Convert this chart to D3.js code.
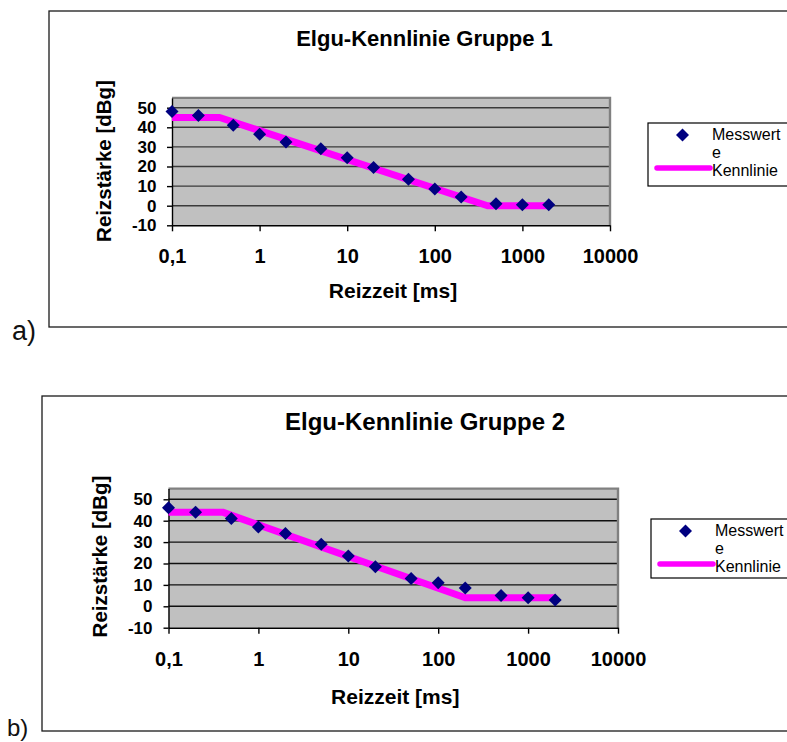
<!DOCTYPE html>
<html>
<head>
<meta charset="utf-8">
<script src="https://cdn.jsdelivr.net/npm/d3@7"></script>
<style>
  html, body { margin: 0; padding: 0; background: #fff; }
  svg { display: block; font-family: "Liberation Sans", Arial, sans-serif; }
</style>
</head>
<body>
<svg id="chart" width="787" height="742"></svg>
<script>
// Stimulus durations (ms) shared by both groups
const reizzeit = [0.1, 0.2, 0.5, 1, 2, 5, 10, 20, 50, 100, 200, 500, 1000, 2000];

// Measured thresholds, group 1 and group 2 (dBg)
const messwerte1 = [48, 46, 41, 36.5, 32.5, 29, 24.5, 19.5, 13.5, 8.5, 4.5, 1, 0.5, 0.5];
const messwerte2 = [46, 44, 41, 37, 34, 29, 23.5, 18.5, 13, 11, 8.5, 5, 4, 3];

// Characteristic curve (Kennlinie) break points
const kennlinieZeit1 = [0.1, 0.35, 400, 2000];
const kennlinieWert1 = [45, 45, 0, 0];
const kennlinieZeit2 = [0.1, 0.4, 200, 2000];
const kennlinieWert2 = [44, 44, 4, 4];

// Axes
const xTicks = [0.1, 1, 10, 100, 1000, 10000];
const xTickLabels = ["0,1", "1", "10", "100", "1000", "10000"];
const yTicks = [-10, 0, 10, 20, 30, 40, 50];
const yDomain = [-10, 55];
const xDomain = [0.1, 10000];

const titles = ["Elgu-Kennlinie Gruppe 1", "Elgu-Kennlinie Gruppe 2"];
const panelLabels = ["a)", "b)"];
const legendLabels = ["Messwert", "e", "Kennlinie"];
const xTitle = "Reizzeit [ms]";
const yTitle = "Reizstärke [dBg]";

const svg = d3.select("#chart");

function diamond(r) {
  return `M0,${-r}L${r},0L0,${r}L${-r},0Z`;
}

function drawChart(cfg) {
  const g = svg.append("g");

  // outer chart frame
  g.append("rect")
    .attr("x", cfg.frame.x).attr("y", cfg.frame.y)
    .attr("width", cfg.frame.w).attr("height", cfg.frame.h)
    .attr("fill", "#fff").attr("stroke", "#1a1a1a").attr("stroke-width", 1.3);

  // panel letter
  g.append("text")
    .attr("x", cfg.panel.x).attr("y", cfg.panel.y)
    .attr("font-size", cfg.panel.size).attr("fill", "#111")
    .text(cfg.panelLabel);

  const x = d3.scaleLog().domain(xDomain).range([cfg.plot.x0, cfg.plot.x1]);
  const y = d3.scaleLinear().domain(yDomain).range([cfg.plot.y1, cfg.plot.y0]);

  // plot area
  g.append("rect")
    .attr("x", cfg.plot.x0).attr("y", cfg.plot.y0)
    .attr("width", cfg.plot.x1 - cfg.plot.x0).attr("height", cfg.plot.y1 - cfg.plot.y0)
    .attr("fill", "#c0c0c0");

  // horizontal gridlines
  g.append("g").selectAll("line")
    .data(yTicks.filter(v => v > yDomain[0]))
    .join("line")
    .attr("x1", cfg.plot.x0).attr("x2", cfg.plot.x1)
    .attr("y1", d => y(d)).attr("y2", d => y(d))
    .attr("stroke", cfg.gridColor).attr("stroke-width", 1.4);

  // plot area border (top and right)
  g.append("path")
    .attr("d", `M${cfg.plot.x0},${cfg.plot.y0}H${cfg.plot.x1}V${cfg.plot.y1}`)
    .attr("fill", "none").attr("stroke", "#808080").attr("stroke-width", 2.4);

  // y axis
  const yAxis = d3.axisLeft(y)
    .tickValues(yTicks)
    .tickFormat(d => String(d))
    .tickSize(5).tickPadding(cfg.yPad).tickSizeOuter(0);
  const ya = g.append("g").attr("transform", `translate(${cfg.plot.x0},0)`).call(yAxis);
  ya.select(".domain").attr("stroke", "#000").attr("stroke-width", 1.4);
  ya.selectAll(".tick line").attr("stroke", "#000").attr("stroke-width", 1.4);
  ya.selectAll(".tick text")
    .attr("font-family", "Liberation Sans, Arial, sans-serif")
    .attr("font-size", 17).attr("font-weight", "bold").attr("fill", "#000");

  // x axis
  const xAxis = d3.axisBottom(x)
    .tickValues(xTicks)
    .tickFormat((d, i) => xTickLabels[i])
    .tickSize(6).tickPadding(18).tickSizeOuter(0);
  const xa = g.append("g").attr("transform", `translate(0,${cfg.plot.y1})`).call(xAxis);
  xa.select(".domain").attr("stroke", "#000").attr("stroke-width", 1.4);
  xa.selectAll(".tick line").attr("stroke", "#000").attr("stroke-width", 1.4);
  xa.selectAll(".tick text")
    .attr("font-family", "Liberation Sans, Arial, sans-serif")
    .attr("font-size", 20).attr("font-weight", "bold").attr("fill", "#000");

  // Kennlinie
  const line = d3.line().x(d => x(d[0])).y(d => y(d[1]));
  g.append("path")
    .datum(cfg.lineX.map((t, i) => [t, cfg.lineY[i]]))
    .attr("d", line)
    .attr("fill", "none").attr("stroke", "#ff00ff")
    .attr("stroke-width", 7).attr("stroke-linejoin", "round");

  // Messwerte
  g.append("g").selectAll("path")
    .data(reizzeit.map((t, i) => [t, cfg.values[i]]))
    .join("path")
    .attr("transform", d => `translate(${x(d[0])},${y(d[1])})`)
    .attr("d", diamond(6.5))
    .attr("fill", "#000080");

  // title
  g.append("text")
    .attr("x", cfg.title.x).attr("y", cfg.title.y)
    .attr("text-anchor", "middle")
    .attr("font-size", cfg.title.size).attr("font-weight", "bold").attr("fill", "#000")
    .text(cfg.titleText);

  // axis titles
  g.append("text")
    .attr("x", (cfg.plot.x0 + cfg.plot.x1) / 2 + 2).attr("y", cfg.xTitleY)
    .attr("text-anchor", "middle")
    .attr("font-size", 21).attr("font-weight", "bold").attr("fill", "#000")
    .text(xTitle);
  g.append("text")
    .attr("transform", `translate(${cfg.yTitle.x},${cfg.yTitle.y}) rotate(-90)`)
    .attr("text-anchor", "middle")
    .attr("font-size", 20.5).attr("font-weight", "bold").attr("fill", "#000")
    .text(yTitle);

  // legend
  const L = cfg.legend;
  g.append("rect")
    .attr("x", L.x).attr("y", L.y).attr("width", L.w).attr("height", L.h)
    .attr("fill", "#fff").attr("stroke", "#000").attr("stroke-width", 1.2);
  g.append("path")
    .attr("transform", `translate(${L.x + 34.5},${L.y + 12})`)
    .attr("d", diamond(6.5)).attr("fill", "#000080");
  g.append("line")
    .attr("x1", L.x + 9).attr("x2", L.x + 62)
    .attr("y1", L.y + 45).attr("y2", L.y + 45)
    .attr("stroke", "#ff00ff").attr("stroke-width", 5.5).attr("stroke-linecap", "round");
  g.append("g").selectAll("text")
    .data(legendLabels)
    .join("text")
    .attr("x", L.x + 64)
    .attr("y", (d, i) => L.y + 17 + i * 18)
    .attr("font-size", 16).attr("fill", "#000")
    .text(d => d);
}

drawChart({
  frame: { x: 49, y: 11, w: 760, h: 316 },
  panel: { x: 12, y: 340, size: 27 },
  panelLabel: panelLabels[0],
  plot: { x0: 172, x1: 610, y0: 97.9, y1: 225.3 },
  gridColor: "#3a3a3a",
  yPad: 10.5,
  values: messwerte1,
  lineX: kennlinieZeit1, lineY: kennlinieWert1,
  titleText: titles[0],
  title: { x: 424.5, y: 46, size: 22 },
  xTitleY: 298,
  yTitle: { x: 111, y: 161 },
  legend: { x: 648, y: 123, w: 160, h: 63 }
});

drawChart({
  frame: { x: 42, y: 396, w: 770, h: 335 },
  panel: { x: 7, y: 736, size: 24 },
  panelLabel: panelLabels[1],
  plot: { x0: 168.5, x1: 618, y0: 488.6, y1: 627.7 },
  gridColor: "#111",
  yPad: 11,
  values: messwerte2,
  lineX: kennlinieZeit2, lineY: kennlinieWert2,
  titleText: titles[1],
  title: { x: 425, y: 430, size: 24 },
  xTitleY: 704,
  yTitle: { x: 107, y: 556.5 },
  legend: { x: 651, y: 519, w: 160, h: 59 }
});
</script>
</body>
</html>
